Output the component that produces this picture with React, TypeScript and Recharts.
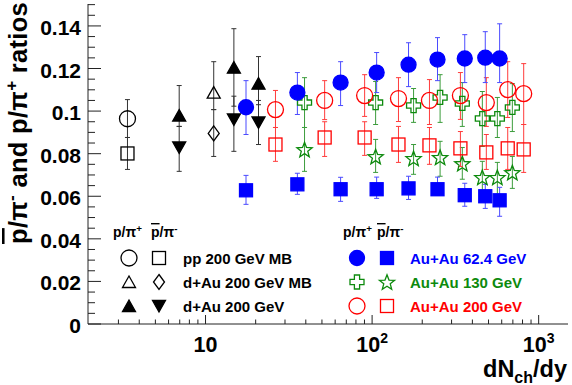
import React from "react";
import { ScatterChart, Scatter, XAxis, YAxis, ErrorBar } from "recharts";

const FONT = "'Liberation Sans', Arial, Helvetica, sans-serif";
const AXIS = "#222";

const BLACK = "#000000";
const BLACK_ERR = "#333333";
const BLUE = "#0000ff";
const BLUE_ERR = "#4b4bff";
const GREEN = "#0d8a0d";
const GREEN_ERR = "#3c9c3c";
const RED = "#ff0000";
const RED_ERR = "#ff3c3c";

// axis ticks
const xMajorTicks = [10, 100, 1000];
const xTickBase = ["10", "10", "10"];
const xTickPow = ["", "2", "3"];
const xMinorTicks = [3, 4, 5, 6, 7, 8, 9, 20, 30, 40, 50, 60, 70, 80, 90, 200, 300, 400, 500, 600, 700, 800, 900];
const yMajorTicks = [0, 0.02, 0.04, 0.06, 0.08, 0.1, 0.12, 0.14];
const yTickLabels = ["0", "0.02", "0.04", "0.06", "0.08", "0.1", "0.12", "0.14"];
const yAllTicks = Array.from({ length: 31 }, (_, i) => Number((i * 0.005).toFixed(3)));
const xAllTicks = [...xMinorTicks, ...xMajorTicks].sort((a, b) => a - b);

// pp 200 GeV MB
const ppX = [3.4];
const ppP = [0.0964];
const ppPLo = [0.0876];
const ppPHi = [0.1054];
const ppPbar = [0.0801];
const ppPbarLo = [0.0726];
const ppPbarHi = [0.0876];

// d+Au 200 GeV MB
const dauMbX = [11.2];
const dauMbP = [0.1087];
const dauMbPLo = [0.1007];
const dauMbPHi = [0.1232];
const dauMbPbar = [0.0895];
const dauMbPbarLo = [0.0787];
const dauMbPbarHi = [0.1007];

// d+Au 200 GeV (centrality)
const dauX = [6.95, 14.8, 20.8];
const dauP = [0.0979, 0.1204, 0.1129];
const dauPLo = [0.0928, 0.1023, 0.103];
const dauPHi = [0.112, 0.1387, 0.1256];
const dauPbar = [0.0829, 0.0961, 0.0947];
const dauPbarLo = [0.0717, 0.0811, 0.0843];
const dauPbarHi = [0.0928, 0.107, 0.105];

// Au+Au 62.4 GeV
const au62X = [17.5, 35.6, 64.7, 106.5, 165.5, 247, 360, 478, 583];
const au62P = [0.1018, 0.1087, 0.1134, 0.1181, 0.1218, 0.1242, 0.1247, 0.1251, 0.1247];
const au62PLo = [0.089, 0.0984, 0.1026, 0.1087, 0.1115, 0.1143, 0.1134, 0.1134, 0.1134];
const au62PHi = [0.1143, 0.1181, 0.1232, 0.1275, 0.1321, 0.1345, 0.1359, 0.1373, 0.141];
const au62Pbar = [0.0628, 0.0656, 0.0633, 0.0633, 0.0637, 0.0633, 0.0605, 0.06, 0.0581];
const au62PbarLo = [0.0562, 0.0609, 0.0576, 0.059, 0.0585, 0.0604, 0.0553, 0.0543, 0.0506];
const au62PbarHi = [0.0698, 0.0708, 0.0689, 0.069, 0.0694, 0.069, 0.0661, 0.0656, 0.0642];

// Au+Au 130 GeV
const au130X = [39.3, 105, 177.4, 256, 348, 459, 565, 695];
const au130P = [0.104, 0.104, 0.1026, 0.1064, 0.1036, 0.0965, 0.0965, 0.1017];
const au130PLo = [0.0923, 0.0937, 0.0947, 0.0947, 0.0928, 0.0834, 0.0876, 0.0904];
const au130PHi = [0.1157, 0.1139, 0.1106, 0.1171, 0.1134, 0.1092, 0.1064, 0.1129];
const au130Pbar = [0.082, 0.0787, 0.0778, 0.0783, 0.0754, 0.0689, 0.0689, 0.0712];
const au130PbarLo = [0.0717, 0.0712, 0.0703, 0.0694, 0.068, 0.0623, 0.0609, 0.0637];
const au130PbarHi = [0.0923, 0.0867, 0.0843, 0.0858, 0.0829, 0.0764, 0.0759, 0.0787];

// Au+Au 200 GeV
const au200X = [26.3, 51.9, 90.2, 144, 221, 339, 485, 652, 813];
const au200P = [0.1007, 0.105, 0.1073, 0.1059, 0.105, 0.1073, 0.104, 0.1101, 0.1082];
const au200PLo = [0.0923, 0.096, 0.0975, 0.0951, 0.0937, 0.0961, 0.0928, 0.097, 0.0937];
const au200PHi = [0.1097, 0.1143, 0.1171, 0.1157, 0.1148, 0.1181, 0.1157, 0.1232, 0.1223];
const au200Pbar = [0.0843, 0.0876, 0.0876, 0.0843, 0.0839, 0.0825, 0.0806, 0.0825, 0.082];
const au200PbarLo = [0.0764, 0.0787, 0.0792, 0.0759, 0.075, 0.074, 0.0726, 0.0726, 0.0712];
const au200PbarHi = [0.0923, 0.095, 0.095, 0.0928, 0.0923, 0.0904, 0.089, 0.0923, 0.0937];

type Row = { x: number; y: number; err: [number, number] };

function rows(xs: number[], vals: number[], lo: number[], hi: number[]): Row[] {
  return xs.map((x, i) => ({ x, y: vals[i], err: [vals[i] - lo[i], hi[i] - vals[i]] }));
}

type Kind = "circle" | "square" | "triUp" | "triDown" | "diamond" | "cross" | "star";

function Marker({ cx, cy, kind, color, filled }: { cx: number; cy: number; kind: Kind; color: string; filled: boolean }) {
  const fill = filled ? color : "none";
  const common = { fill, stroke: color, strokeWidth: 1.3 };
  const pts = (p: number[][]) => p.map(([dx, dy]) => `${cx + dx},${cy + dy}`).join(" ");
  switch (kind) {
    case "circle":
      return <circle cx={cx} cy={cy} r={filled ? 7.5 : 8} {...common} />;
    case "square":
      return <rect x={cx - 6.5} y={cy - 6.5} width={13} height={13} {...common} />;
    case "triUp":
      return <polygon points={pts([[-6.5, 5.5], [6.5, 5.5], [0, -6]])} {...common} />;
    case "triDown":
      return <polygon points={pts([[-6.5, -5.5], [6.5, -5.5], [0, 6]])} {...common} />;
    case "diamond":
      return <polygon points={pts([[0, -7.5], [5.5, 0], [0, 7.5], [-5.5, 0]])} {...common} />;
    case "cross": {
      const a = 2.6;
      const e = 7;
      return (
        <polygon
          points={pts([[-a, -e], [a, -e], [a, -a], [e, -a], [e, a], [a, a], [a, e], [-a, e], [-a, a], [-e, a], [-e, -a], [-a, -a]])}
          {...common}
        />
      );
    }
    case "star": {
      const p: number[][] = [];
      for (let k = 0; k < 10; k++) {
        const r = k % 2 === 0 ? 8 : 3.4;
        const ang = -Math.PI / 2 + (k * Math.PI) / 5;
        p.push([r * Math.cos(ang), r * Math.sin(ang) + 0.8]);
      }
      return <polygon points={pts(p)} {...common} />;
    }
  }
  return null;
}

const mk = (kind: Kind, color: string, filled: boolean) => (props: any) => (
  <Marker cx={props.cx} cy={props.cy} kind={kind} color={color} filled={filled} />
);

function BottomTick({ x, y, payload }: any) {
  const mi = xMajorTicks.indexOf(payload.value);
  const len = mi >= 0 ? 9 : 4.5;
  return (
    <g>
      <line x1={x} x2={x} y1={y} y2={y - len} stroke={AXIS} />
      {mi >= 0 && (
        <text x={x} y={y + 28} textAnchor="middle" fontFamily={FONT} fontWeight="bold" fontSize={21.5} fill="#000">
          {xTickBase[mi]}
          {xTickPow[mi] && (
            <tspan dy={-9} fontSize={14}>
              {xTickPow[mi]}
            </tspan>
          )}
        </text>
      )}
    </g>
  );
}

function TopTick({ x, y, payload }: any) {
  const len = xMajorTicks.indexOf(payload.value) >= 0 ? 9 : 4.5;
  return <line x1={x} x2={x} y1={y} y2={y + len} stroke={AXIS} />;
}

const yMajorIndex = (v: number) => yMajorTicks.findIndex((t) => Math.abs(t - v) < 1e-6);

function LeftTick({ x, y, payload }: any) {
  const mi = yMajorIndex(payload.value);
  const len = mi >= 0 ? 13 : 7;
  return (
    <g>
      <line x1={x} x2={x + len} y1={y} y2={y} stroke={AXIS} />
      {mi >= 0 && (
        <text x={x - 7} y={y + 9} textAnchor="end" fontFamily={FONT} fontWeight="bold" fontSize={21} fill="#000">
          {yTickLabels[mi]}
        </text>
      )}
    </g>
  );
}

function RightTick({ x, y, payload }: any) {
  const len = yMajorIndex(payload.value) >= 0 ? 13 : 7;
  return <line x1={x} x2={x - len} y1={y} y2={y} stroke={AXIS} />;
}

function Ratio({ x, y, size, bar }: { x: number; y: number; size: number; bar: boolean }) {
  return (
    <text x={x} y={y} fontFamily={FONT} fontWeight="bold" fontSize={size} fill="#000">
      <tspan style={bar ? { textDecoration: "overline" } : undefined}>p</tspan>
      <tspan>/π</tspan>
      <tspan dy={-5} fontSize={size * 0.7}>
        {bar ? "-" : "+"}
      </tspan>
    </text>
  );
}

const legendLeft = [
  { kinds: ["circle", "square"] as Kind[], filled: false, label: "pp 200 GeV MB" },
  { kinds: ["triUp", "diamond"] as Kind[], filled: false, label: "d+Au 200 GeV MB" },
  { kinds: ["triUp", "triDown"] as Kind[], filled: true, label: "d+Au 200 GeV" },
];
const legendRight = [
  { kinds: ["circle", "square"] as Kind[], filled: true, color: BLUE, label: "Au+Au 62.4 GeV" },
  { kinds: ["cross", "star"] as Kind[], filled: false, color: GREEN, label: "Au+Au 130 GeV" },
  { kinds: ["circle", "square"] as Kind[], filled: false, color: RED, label: "Au+Au 200 GeV" },
];

export default function App() {
  const errBar = (stroke: string) => (
    <ErrorBar dataKey="err" direction="y" width={2.5} stroke={stroke} strokeWidth={1} />
  );
  return (
    <div style={{ position: "absolute", left: 0, top: 0, width: 572, height: 385, background: "#fff" }}>
      <ScatterChart width={572} height={385} margin={{ top: 4, right: 4, bottom: 0, left: 0 }}>
        <XAxis
          xAxisId="b"
          dataKey="x"
          type="number"
          scale="log"
          domain={[1.97, 1500]}
          allowDataOverflow
          orientation="bottom"
          height={61}
          ticks={xAllTicks}
          interval={0}
          tickSize={0}
          tickMargin={0}
          tickLine={false}
          axisLine={{ stroke: AXIS }}
          tick={<BottomTick />}
        />
        <XAxis
          xAxisId="t"
          type="number"
          scale="log"
          domain={[1.97, 1500]}
          allowDataOverflow
          orientation="top"
          height={0}
          ticks={xAllTicks}
          interval={0}
          tickSize={0}
          tickMargin={0}
          tickLine={false}
          axisLine={{ stroke: AXIS }}
          tick={<TopTick />}
        />
        <YAxis
          yAxisId="l"
          dataKey="y"
          type="number"
          domain={[0, 0.1503]}
          allowDataOverflow
          orientation="left"
          width={88}
          ticks={yAllTicks}
          interval={0}
          tickSize={0}
          tickMargin={0}
          tickLine={false}
          axisLine={{ stroke: AXIS }}
          tick={<LeftTick />}
        />
        <YAxis
          yAxisId="r"
          type="number"
          domain={[0, 0.1503]}
          allowDataOverflow
          orientation="right"
          width={0}
          ticks={yAllTicks}
          interval={0}
          tickSize={0}
          tickMargin={0}
          tickLine={false}
          axisLine={{ stroke: AXIS }}
          tick={<RightTick />}
        />

        <Scatter xAxisId="b" yAxisId="l" data={rows(ppX, ppP, ppPLo, ppPHi)} isAnimationActive={false} shape={mk("circle", BLACK, false)}>
          {errBar(BLACK_ERR)}
        </Scatter>
        <Scatter xAxisId="b" yAxisId="l" data={rows(ppX, ppPbar, ppPbarLo, ppPbarHi)} isAnimationActive={false} shape={mk("square", BLACK, false)}>
          {errBar(BLACK_ERR)}
        </Scatter>
        <Scatter xAxisId="b" yAxisId="l" data={rows(dauMbX, dauMbP, dauMbPLo, dauMbPHi)} isAnimationActive={false} shape={mk("triUp", BLACK, false)}>
          {errBar(BLACK_ERR)}
        </Scatter>
        <Scatter xAxisId="b" yAxisId="l" data={rows(dauMbX, dauMbPbar, dauMbPbarLo, dauMbPbarHi)} isAnimationActive={false} shape={mk("diamond", BLACK, false)}>
          {errBar(BLACK_ERR)}
        </Scatter>
        <Scatter xAxisId="b" yAxisId="l" data={rows(dauX, dauP, dauPLo, dauPHi)} isAnimationActive={false} shape={mk("triUp", BLACK, true)}>
          {errBar(BLACK_ERR)}
        </Scatter>
        <Scatter xAxisId="b" yAxisId="l" data={rows(dauX, dauPbar, dauPbarLo, dauPbarHi)} isAnimationActive={false} shape={mk("triDown", BLACK, true)}>
          {errBar(BLACK_ERR)}
        </Scatter>

        <Scatter xAxisId="b" yAxisId="l" data={rows(au130X, au130P, au130PLo, au130PHi)} isAnimationActive={false} shape={mk("cross", GREEN, false)}>
          {errBar(GREEN_ERR)}
        </Scatter>
        <Scatter xAxisId="b" yAxisId="l" data={rows(au130X, au130Pbar, au130PbarLo, au130PbarHi)} isAnimationActive={false} shape={mk("star", GREEN, false)}>
          {errBar(GREEN_ERR)}
        </Scatter>
        <Scatter xAxisId="b" yAxisId="l" data={rows(au200X, au200P, au200PLo, au200PHi)} isAnimationActive={false} shape={mk("circle", RED, false)}>
          {errBar(RED_ERR)}
        </Scatter>
        <Scatter xAxisId="b" yAxisId="l" data={rows(au200X, au200Pbar, au200PbarLo, au200PbarHi)} isAnimationActive={false} shape={mk("square", RED, false)}>
          {errBar(RED_ERR)}
        </Scatter>
        <Scatter xAxisId="b" yAxisId="l" data={rows(au62X, au62P, au62PLo, au62PHi)} isAnimationActive={false} shape={mk("circle", BLUE, true)}>
          {errBar(BLUE_ERR)}
        </Scatter>
        <Scatter xAxisId="b" yAxisId="l" data={rows(au62X, au62Pbar, au62PbarLo, au62PbarHi)} isAnimationActive={false} shape={mk("square", BLUE, true)}>
          {errBar(BLUE_ERR)}
        </Scatter>
      </ScatterChart>

      <svg width={572} height={385} style={{ position: "absolute", left: 0, top: 0, pointerEvents: "none" }}>
        {/* y axis title, drawn upward from its bottom end */}
        <text
          x={0}
          y={0}
          transform="translate(27 244) rotate(-90)"
          textAnchor="start"
          fontFamily={FONT}
          fontWeight="bold"
          fontSize={25.5}
          letterSpacing={0.3}
          fill="#000"
        >
          <tspan style={{ textDecoration: "overline" }}>p</tspan>
          <tspan>/π</tspan>
          <tspan dy={-10} fontSize={17}>-</tspan>
          <tspan dy={10}> and p/π</tspan>
          <tspan dy={-10} fontSize={17}>+</tspan>
          <tspan dy={10}> ratios</tspan>
        </text>

        {/* x axis title */}
        <text x={567} y={377} textAnchor="end" fontFamily={FONT} fontWeight="bold" fontSize={23.5} fill="#000">
          dN
          <tspan dy={6} fontSize={16}>ch</tspan>
          <tspan dy={-6}>/dy</tspan>
        </text>

        {/* left legend */}
        <Ratio x={113} y={237} size={14} bar={false} />
        <Ratio x={151} y={237} size={14} bar={true} />
        {legendLeft.map((r, i) => (
          <g key={r.label}>
            <Marker cx={129} cy={258 + i * 24} kind={r.kinds[0]} color={BLACK} filled={r.filled} />
            <Marker cx={159} cy={258 + i * 24} kind={r.kinds[1]} color={BLACK} filled={r.filled} />
            <text x={183} y={263.5 + i * 24} fontFamily={FONT} fontWeight="bold" fontSize={15} fill="#000">
              {r.label}
            </text>
          </g>
        ))}

        {/* right legend */}
        <Ratio x={343} y={237} size={14} bar={false} />
        <Ratio x={377} y={237} size={14} bar={true} />
        {legendRight.map((r, i) => (
          <g key={r.label}>
            <Marker cx={357} cy={258 + i * 24} kind={r.kinds[0]} color={r.color} filled={r.filled} />
            <Marker cx={387} cy={258 + i * 24} kind={r.kinds[1]} color={r.color} filled={r.filled} />
            <text x={410} y={263.5 + i * 24} fontFamily={FONT} fontWeight="bold" fontSize={15} fill={r.color}>
              {r.label}
            </text>
          </g>
        ))}
      </svg>
    </div>
  );
}
